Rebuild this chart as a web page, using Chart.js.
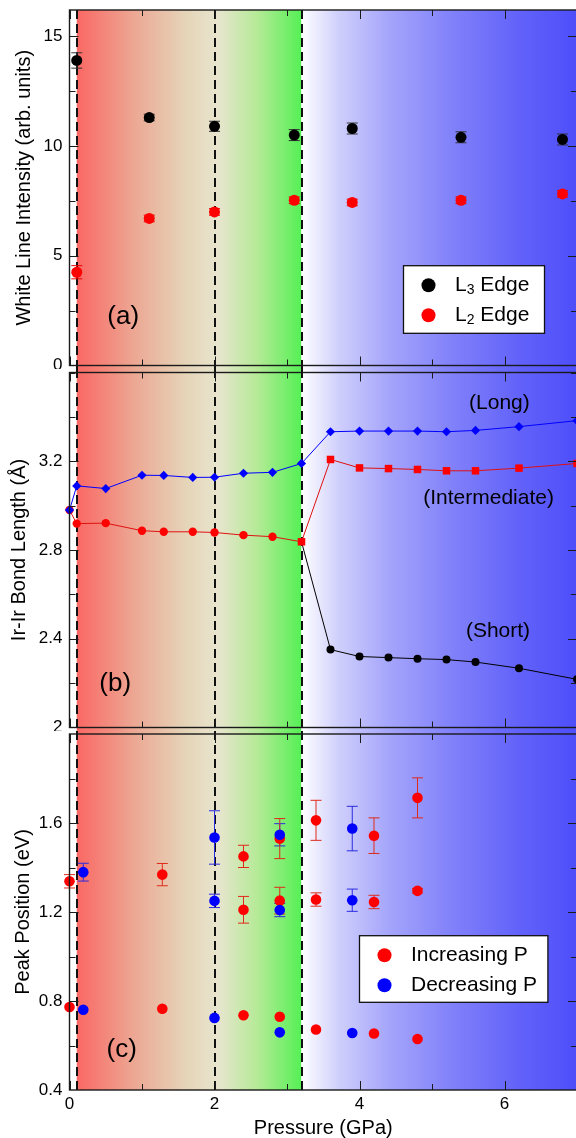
<!DOCTYPE html>
<html>
<head>
<meta charset="utf-8">
<script src="https://cdn.jsdelivr.net/npm/chart.js@4.4.0/dist/chart.umd.min.js"></script>
<style>
html, body { margin: 0; padding: 0; background: #fff; overflow: hidden; width: 576px; height: 1138px; }
canvas { position: absolute; left: 0; }
</style>
</head>
<body>
<canvas id="chartA" width="577" height="369" style="top:0px"></canvas>
<canvas id="chartB" width="577" height="362" style="top:369px"></canvas>
<canvas id="chartC" width="577" height="407" style="top:731px"></canvas>
<script>
// ---- (a) white line intensity
var pressA = [0.1, 1.1, 2.0, 3.1, 3.9, 5.4, 6.8];
var l3Edge = [13.9, 11.3, 10.9, 10.5, 10.8, 10.4, 10.3];
var l3Err  = [0.35, 0.15, 0.23, 0.25, 0.25, 0.25, 0.25];
var l2Edge = [4.25, 6.7, 7.0, 7.53, 7.43, 7.53, 7.82];
var l2Err  = [0.3, 0.15, 0.15, 0.15, 0.15, 0.15, 0.15];

// ---- (b) Ir-Ir bond lengths
var pressB    = [0, 0.1, 0.5, 1.0, 1.3, 1.7, 2.0, 2.4, 2.8, 3.2, 3.6, 4.0, 4.4, 4.8, 5.2, 5.6, 6.2, 7.0];
var longBond  = [2.98, 3.089, 3.077, 3.137, 3.136, 3.127, 3.128, 3.146, 3.15, 3.19, 3.333, 3.336, 3.336, 3.336, 3.333, 3.339, 3.356, 3.383];
var midBond   = [2.98, 2.919, 2.921, 2.887, 2.882, 2.882, 2.879, 2.867, 2.86, 2.837, 3.208, 3.17, 3.167, 3.163, 3.157, 3.157, 3.169, 3.19];
var pressShort = [3.2, 3.6, 4.0, 4.4, 4.8, 5.2, 5.6, 6.2, 7.0];
var shortBond  = [2.837, 2.351, 2.32, 2.315, 2.31, 2.306, 2.295, 2.267, 2.217];

// ---- (c) peak positions
var pressInc = [0, 0, 1.28, 1.28, 2.4, 2.4, 2.4, 2.9, 2.9, 2.9, 3.4, 3.4, 3.4, 4.2, 4.2, 4.2, 4.8, 4.8, 4.8];
var peakInc  = [1.338, 0.773, 1.368, 0.765, 1.45, 1.21, 0.736, 1.53, 1.251, 0.729, 1.612, 1.256, 0.672, 1.543, 1.245, 0.654, 1.713, 1.295, 0.629];
var errInc   = [0.03, 0, 0.05, 0, 0.05, 0.06, 0, 0.09, 0.06, 0, 0.09, 0.03, 0, 0.08, 0.03, 0, 0.09, 0.01, 0];
var pressDec = [0.19, 0.19, 2.0, 2.0, 2.0, 2.9, 2.9, 2.9, 3.9, 3.9, 3.9];
var peakDec  = [1.379, 0.761, 1.535, 1.25, 0.724, 1.547, 1.209, 0.659, 1.575, 1.253, 0.656];
var errDec   = [0.04, 0, 0.12, 0.03, 0, 0.05, 0.03, 0, 0.1, 0.05, 0];

// ---- ticks
var ticksX = [0, 2, 4, 6];
var ticksA = [0, 5, 10, 15];
var ticksB = [2, 2.4, 2.8, 3.2];
var ticksC = [0.4, 0.8, 1.2, 1.6];

// phase boundaries (dashed) and shading
var phaseEdges = [0.1, 2.0, 3.2];
var warmStops = [[0.1, 'rgb(250,104,100)'], [0.9, 'rgb(236,168,148)'], [1.6, 'rgb(229,212,184)'], [2.05, 'rgb(232,229,206)'], [2.6, 'rgb(180,234,150)'], [3.2, 'rgb(85,240,85)']];
var coolStops = [[3.2, 'rgb(255,255,255)'], [3.7, 'rgb(208,208,252)'], [4.4, 'rgb(165,165,251)'], [5.3, 'rgb(128,128,250)'], [6.2, 'rgb(98,98,250)'], [7.0, 'rgb(78,78,250)']];

var FONT = "'Liberation Sans', Arial, Helvetica, sans-serif";
Chart.defaults.color = '#000';
Chart.defaults.font.family = FONT;

function pts(xs, ys) {
    return xs.map(function(x, i) { return { x: x, y: ys[i] }; });
}

// shaded phase bands + dashed boundaries
var backdrop = {
    id: 'backdrop',
    beforeDatasetsDraw: function(chart, args, o) {
        var ctx = chart.ctx, a = chart.chartArea, xs = chart.scales.x;
        var top = o.padTop ? 0 : a.top;
        var bot = o.padBottom ? chart.height : a.bottom;
        function band(stops) {
            var x0 = xs.getPixelForValue(stops[0][0]);
            var x1 = xs.getPixelForValue(stops[stops.length - 1][0]);
            var g = ctx.createLinearGradient(x0, 0, x1, 0);
            stops.forEach(function(s) {
                g.addColorStop((xs.getPixelForValue(s[0]) - x0) / (x1 - x0), s[1]);
            });
            ctx.fillStyle = g;
            ctx.fillRect(x0, top, x1 - x0, bot - top);
        }
        ctx.save();
        band(warmStops);
        band(coolStops);
        ctx.strokeStyle = '#111';
        ctx.lineWidth = 2;
        ctx.setLineDash([9, 5]);
        phaseEdges.forEach(function(p) {
            var x = Math.round(xs.getPixelForValue(p));
            ctx.beginPath();
            ctx.moveTo(x, top);
            ctx.lineTo(x, bot);
            ctx.stroke();
        });
        ctx.restore();
    }
};

// vertical error bars from dataset.errors
var errorBars = {
    id: 'errorBars',
    beforeDatasetsDraw: function(chart) {
        var ctx = chart.ctx, xs = chart.scales.x, ys = chart.scales.y;
        ctx.save();
        ctx.lineWidth = 1;
        chart.data.datasets.forEach(function(ds) {
            if (!ds.errors) return;
            ctx.strokeStyle = ds.errorColor || ds.borderColor;
            ds.data.forEach(function(p, i) {
                var e = ds.errors[i];
                if (!e) return;
                var x = xs.getPixelForValue(p.x);
                var y0 = ys.getPixelForValue(p.y - e), y1 = ys.getPixelForValue(p.y + e);
                ctx.beginPath();
                ctx.moveTo(x, y0); ctx.lineTo(x, y1);
                ctx.moveTo(x - 5.5, y0); ctx.lineTo(x + 5.5, y0);
                ctx.moveTo(x - 5.5, y1); ctx.lineTo(x + 5.5, y1);
                ctx.stroke();
            });
        });
        ctx.restore();
    }
};

function tickList(lo, hi, step) {
    var out = [];
    var n0 = Math.ceil(lo / step - 1e-9), n1 = Math.floor(hi / step + 1e-9);
    for (var n = n0; n <= n1; n++) out.push(+(n * step).toFixed(4));
    return out;
}

// box + inward ticks on all four sides
var frame = {
    id: 'frame',
    afterDatasetsDraw: function(chart, args, o) {
        var ctx = chart.ctx, a = chart.chartArea, xs = chart.scales.x, ys = chart.scales.y;
        ctx.save();
        ctx.strokeStyle = '#1a1a1a';
        ctx.lineWidth = 1;
        tickList(xs.min, xs.max, 1).forEach(function(v) {
            var x = Math.round(xs.getPixelForValue(v)) + 0.5;
            if (x < a.left + 1 || x > a.right - 1) return;
            var len = ticksX.indexOf(v) >= 0 ? 9 : 6;
            ctx.beginPath();
            ctx.moveTo(x, a.top); ctx.lineTo(x, a.top + len);
            ctx.moveTo(x, a.bottom); ctx.lineTo(x, a.bottom - len);
            ctx.stroke();
        });
        tickList(ys.min, ys.max, o.yStep).forEach(function(v) {
            var y = Math.round(ys.getPixelForValue(v)) + 0.5;
            if (y < a.top + 1 || y > a.bottom - 1) return;
            var len = o.yMajor.indexOf(v) >= 0 ? 9 : 6;
            ctx.beginPath();
            ctx.moveTo(a.left, y); ctx.lineTo(a.left + len, y);
            ctx.moveTo(a.right, y); ctx.lineTo(a.right - len, y);
            ctx.stroke();
        });
        ctx.lineWidth = 1.4;
        ctx.strokeRect(a.left, a.top, a.right - a.left, a.bottom - a.top);
        ctx.restore();
    }
};

// text notes placed in data coordinates
var notes = {
    id: 'notes',
    afterDatasetsDraw: function(chart, args, o) {
        var ctx = chart.ctx, xs = chart.scales.x, ys = chart.scales.y;
        ctx.save();
        ctx.fillStyle = '#000';
        ctx.textAlign = 'center';
        ctx.textBaseline = 'middle';
        (o.items || []).forEach(function(n) {
            ctx.font = n.size + 'px ' + FONT;
            ctx.fillText(n.text, xs.getPixelForValue(n.x), ys.getPixelForValue(n.y));
        });
        ctx.restore();
    }
};

// boxed legend inside the plot
var boxLegend = {
    id: 'boxLegend',
    afterDraw: function(chart, args, o) {
        if (!o.items) return;
        var ctx = chart.ctx, a = chart.chartArea;
        var L = a.left + o.left, T = a.top + o.top;
        ctx.save();
        ctx.fillStyle = '#fff';
        ctx.fillRect(L, T, o.width, o.height);
        ctx.strokeStyle = '#111';
        ctx.lineWidth = 1.3;
        ctx.strokeRect(L, T, o.width, o.height);
        ctx.textBaseline = 'middle';
        ctx.textAlign = 'left';
        o.items.forEach(function(it, i) {
            var y = T + 19.5 + i * 30;
            ctx.fillStyle = it.color;
            ctx.beginPath();
            ctx.arc(L + 25, y, 7, 0, Math.PI * 2);
            ctx.fill();
            ctx.fillStyle = '#000';
            var x = L + 51.5;
            ctx.font = '21px ' + FONT;
            ctx.fillText(it.text, x, y);
            x += ctx.measureText(it.text).width;
            if (it.sub) {
                ctx.font = '14px ' + FONT;
                ctx.fillText(it.sub, x, y + 5);
                x += ctx.measureText(it.sub).width;
                ctx.font = '21px ' + FONT;
                ctx.fillText(it.rest, x, y);
            }
        });
        ctx.restore();
    }
};

function noPad(s) {
    s.paddingTop = 0; s.paddingBottom = 0; s.paddingLeft = 0; s.paddingRight = 0;
}

function panelOptions(cfg) {
    var xAxis = { type: 'linear', min: 0, max: 7, display: false };
    if (cfg.showX) {
        xAxis = {
            type: 'linear', min: 0, max: 7,
            afterFit: function(s) { s.height = 48; noPad(s); },
            afterBuildTicks: function(s) { s.ticks = ticksX.map(function(v) { return { value: v }; }); },
            grid: { display: false, drawTicks: false, tickLength: 0 },
            border: { display: false },
            ticks: { font: { size: 17 }, padding: 4, maxRotation: 0, autoSkip: false },
            title: { display: true, text: 'Pressure (GPa)', font: { size: 20, lineHeight: 1 }, padding: { top: 0, bottom: 0 } }
        };
    }
    return {
        responsive: false,
        animation: false,
        events: [],
        layout: { autoPadding: false, padding: { left: 0, right: 0, top: cfg.padTop, bottom: cfg.padBottom } },
        plugins: {
            legend: { display: false },
            tooltip: { enabled: false },
            backdrop: { padTop: cfg.bandTop, padBottom: cfg.bandBottom },
            frame: { yStep: cfg.yStep, yMajor: cfg.yTicks },
            notes: { items: cfg.notes },
            boxLegend: cfg.legend || {}
        },
        scales: {
            x: xAxis,
            y: {
                type: 'linear', min: cfg.yMin, max: cfg.yMax,
                afterFit: function(s) { s.width = 69.5; noPad(s); },
                afterBuildTicks: function(s) { s.ticks = cfg.yTicks.map(function(v) { return { value: v }; }); },
                grid: { display: false, drawTicks: false, tickLength: 0 },
                border: { display: false },
                ticks: { font: { size: 17 }, padding: 7, callback: function(v) { return String(v); } },
                title: { display: true, text: cfg.yTitle, font: { size: 20, lineHeight: 1.2 }, padding: { top: cfg.titlePad, bottom: 0 } }
            }
        }
    };
}

var plugins = [backdrop, errorBars, frame, notes, boxLegend];

// (a)
new Chart(document.getElementById('chartA'), {
    type: 'scatter',
    data: {
        datasets: [
            { label: 'L3 Edge', data: pts(pressA, l3Edge), errors: l3Err, errorColor: '#333',
              backgroundColor: '#000', borderColor: '#000', pointRadius: 5.5, borderWidth: 0, clip: false },
            { label: 'L2 Edge', data: pts(pressA, l2Edge), errors: l2Err, errorColor: '#e00',
              backgroundColor: '#ff0000', borderColor: '#ff0000', pointRadius: 5.5, borderWidth: 0, clip: false }
        ]
    },
    options: panelOptions({
        yMin: 0, yMax: 16.2, yTicks: ticksA, yStep: 2.5,
        yTitle: 'White Line Intensity (arb. units)', titlePad: 12.5,
        padTop: 10, padBottom: 3.5, bandTop: false, bandBottom: true,
        notes: [{ text: '(a)', x: 0.74, y: 2.2, size: 26 }],
        legend: { left: 334, top: 255.7, width: 141, height: 67.6,
                  items: [{ color: '#000', text: 'L', sub: '3', rest: ' Edge' },
                          { color: '#ff0000', text: 'L', sub: '2', rest: ' Edge' }] }
    }),
    plugins: plugins
});

// (b)
new Chart(document.getElementById('chartB'), {
    type: 'scatter',
    data: {
        datasets: [
            { label: 'Long', data: pts(pressB, longBond), showLine: true, borderColor: '#0000ff', backgroundColor: '#0000ff',
              borderWidth: 1, pointStyle: 'rectRot', pointRadius: 4.6, pointBorderWidth: 0, clip: false },
            { label: 'Intermediate', data: pts(pressB, midBond), showLine: true, borderColor: '#e01010', backgroundColor: '#ff0000',
              borderWidth: 1, pointStyle: pressB.map(function(p) { return p < 3.1 ? 'circle' : 'rect'; }),
              pointRadius: pressB.map(function(p) { return p < 3.1 ? 4.2 : 5.3; }), pointBorderWidth: 0, clip: false },
            { label: 'Short', data: pts(pressShort, shortBond), showLine: true, borderColor: '#000', backgroundColor: '#000',
              borderWidth: 1, pointRadius: pressShort.map(function(p, i) { return i === 0 ? 0 : 4; }), pointBorderWidth: 0, clip: false }
        ]
    },
    options: panelOptions({
        yMin: 2, yMax: 3.6, yTicks: ticksB, yStep: 0.2,
        yTitle: 'Ir-Ir Bond Length (\u00c5)', titlePad: 7.5,
        padTop: 3.5, padBottom: 3.5, bandTop: true, bandBottom: true,
        notes: [{ text: '(b)', x: 0.63, y: 2.195, size: 26 },
                { text: '(Long)', x: 5.93, y: 3.462, size: 21 },
                { text: '(Intermediate)', x: 5.78, y: 3.032, size: 21 },
                { text: '(Short)', x: 5.91, y: 2.433, size: 21 }]
    }),
    plugins: plugins
});

// (c)
new Chart(document.getElementById('chartC'), {
    type: 'scatter',
    data: {
        datasets: [
            { label: 'Decreasing P', data: pts(pressDec, peakDec), errors: errDec, errorColor: '#2a2ae0',
              backgroundColor: '#0000ff', borderColor: '#0000ff', pointRadius: 5.3, borderWidth: 0, clip: false },
            { label: 'Increasing P', data: pts(pressInc, peakInc), errors: errInc, errorColor: '#e02a1a',
              backgroundColor: '#ff0000', borderColor: '#ff0000', pointRadius: 5.3, borderWidth: 0, clip: false }
        ]
    },
    options: panelOptions({
        yMin: 0.4, yMax: 2.0, yTicks: ticksC, yStep: 0.2,
        yTitle: 'Peak Position (eV)', titlePad: 11.5,
        padTop: 3, padBottom: 0, bandTop: true, bandBottom: false, showX: true,
        notes: [{ text: '(c)', x: 0.72, y: 0.582, size: 26 }],
        legend: { left: 290, top: 201.7, width: 188.4, height: 66.6,
                  items: [{ color: '#ff0000', text: 'Increasing P' },
                          { color: '#0000ff', text: 'Decreasing P' }] }
    }),
    plugins: plugins
});
</script>
</body>
</html>
